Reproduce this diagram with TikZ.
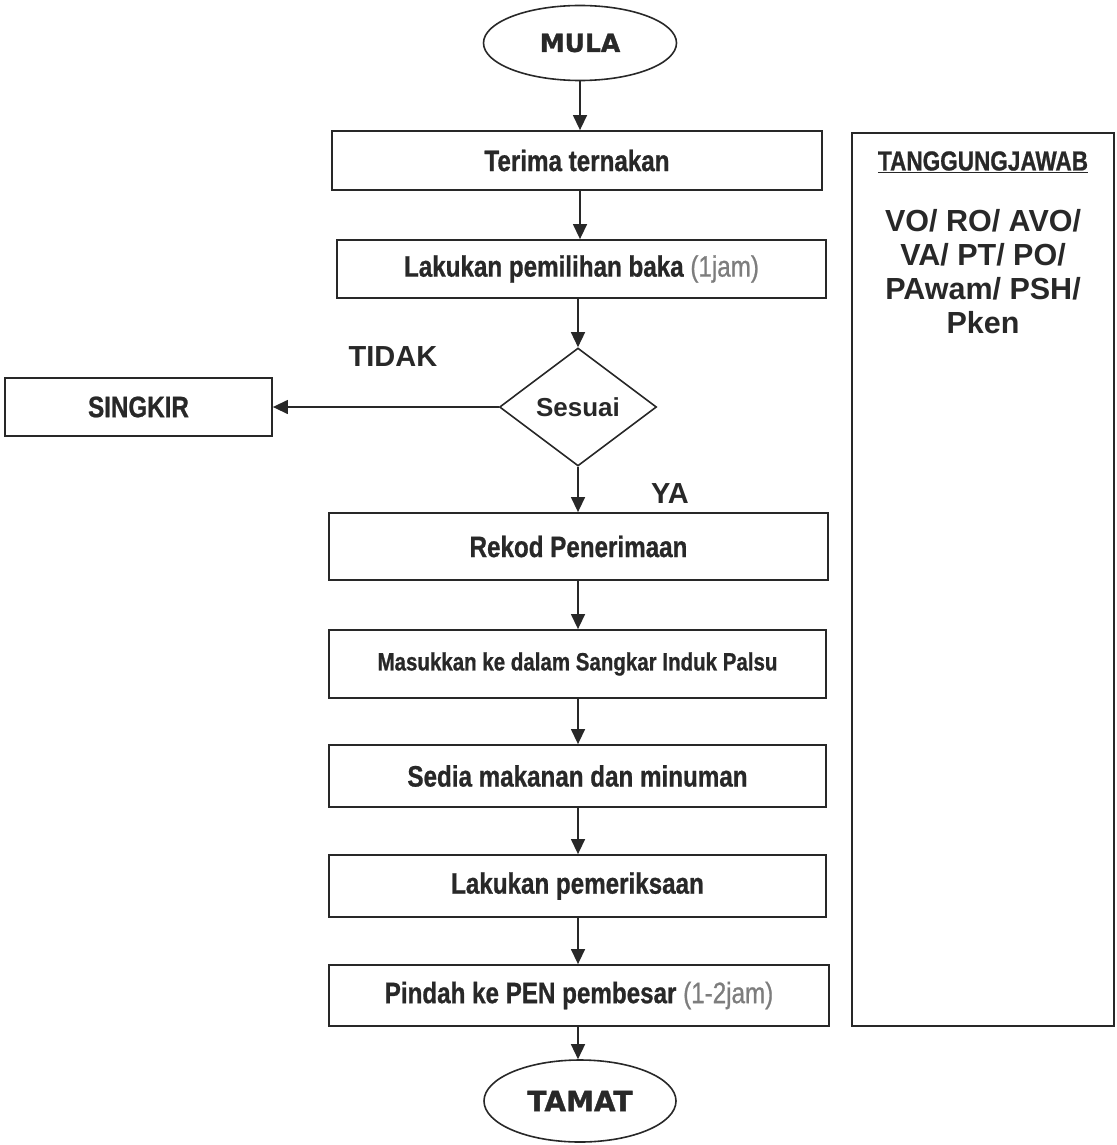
\documentclass[tikz,border=0pt]{standalone}
\usepackage{fontspec}
\setmainfont{Liberation Sans}
\newfontfamily\narrowf[FakeStretch=0.82,FakeBold=0.8]{Liberation Sans}
\newfontfamily\heavyf[FakeBold=1.2]{DejaVu Sans}
\usetikzlibrary{arrows.meta,shapes.geometric}
\definecolor{ink}{RGB}{40,40,40}
\definecolor{note}{RGB}{125,125,125}
\begin{document}
\begin{tikzpicture}[x=1pt,y=-1pt,
  stepbox/.style={draw=ink, line width=1.8pt, rectangle, inner sep=0pt, text=ink,
    font=\narrowf\bfseries\fontsize{29.5}{33}\selectfont},
  term/.style={draw=ink, line width=1.6pt, ellipse, inner sep=0pt, text=ink,
    font=\heavyf\bfseries\fontsize{25}{29}\selectfont},
  decide/.style={draw=ink, line width=1.6pt, diamond, inner sep=0pt, text=ink,
    font=\bfseries\fontsize{26}{30}\selectfont},
  lbl/.style={text=ink, font=\bfseries\fontsize{29}{32}\selectfont, inner sep=0pt},
  arr/.style={draw=ink, line width=1.4pt, -{Triangle[length=15pt,width=14pt]}}
]
\useasboundingbox (0,0) rectangle (1116,1145);

\node[term, minimum width=193pt, minimum height=75pt] (mula) at (580,43) {MULA};
\node[stepbox, minimum width=490pt, minimum height=59pt] (t1) at (577,160.5) {Terima ternakan};
\node[stepbox, minimum width=489pt, minimum height=58pt] (t2) at (581.5,269) {Lakukan pemilihan baka \textcolor{note}{\mdseries(1jam)}};
\node[decide, minimum width=157pt, minimum height=118pt] (dia) at (578,407) {Sesuai};
\node[stepbox, minimum width=267pt, minimum height=58pt] (singkir) at (138.5,407) {SINGKIR};
\node[stepbox, minimum width=499pt, minimum height=67pt] (rekod) at (578.5,546.5) {Rekod Penerimaan};
\node[stepbox, minimum width=497pt, minimum height=68pt, font=\narrowf\bfseries\fontsize{25}{29}\selectfont] (masuk) at (577.5,664) {Masukkan ke dalam Sangkar Induk Palsu};
\node[stepbox, minimum width=497pt, minimum height=62pt] (sedia) at (577.5,776) {Sedia makanan dan minuman};
\node[stepbox, minimum width=497pt, minimum height=62pt] (periksa) at (577.5,886) {Lakukan pemeriksaan};
\node[stepbox, minimum width=500pt, minimum height=61pt] (pindah) at (579,995.5) {Pindah ke PEN pembesar \textcolor{note}{\mdseries(1-2jam)}};
\node[term, minimum width=192pt, minimum height=82pt, font=\heavyf\bfseries\fontsize{28}{32}\selectfont] (tamat) at (580,1101) {TAMAT};

\node[draw=ink, line width=1.3pt, rectangle, minimum width=262pt, minimum height=893pt, inner sep=0pt] (panel) at (983,579.5) {};
\node[text=ink, inner sep=0pt, font=\narrowf\bfseries\fontsize{27.5}{31}\selectfont] (tj) at (983,162) {\underline{TANGGUNGJAWAB}};
\node[text=ink, inner sep=0pt, align=center, font=\bfseries\fontsize{30.5}{34}\selectfont] (who) at (983,272) {VO/ RO/ AVO/\\VA/ PT/ PO/\\PAwam/ PSH/\\Pken};

\node[lbl] (tidak) at (393,357) {TIDAK};
\node[lbl] (ya) at (670,494) {YA};

\draw[arr] (mula.south) -- (mula.south |- t1.north);
\draw[arr] (mula.south |- t1.south) -- (mula.south |- t2.north);
\draw[arr] (dia.north |- t2.south) -- (dia.north);
\draw[arr] (dia.west) -- (singkir.east);
\draw[arr] (dia.south) -- (dia.south |- rekod.north);
\draw[arr] (dia.south |- rekod.south) -- (dia.south |- masuk.north);
\draw[arr] (dia.south |- masuk.south) -- (dia.south |- sedia.north);
\draw[arr] (dia.south |- sedia.south) -- (dia.south |- periksa.north);
\draw[arr] (dia.south |- periksa.south) -- (dia.south |- pindah.north);
\draw[arr] (dia.south |- pindah.south) -- (tamat.north -| dia.south);
\end{tikzpicture}
\end{document}
